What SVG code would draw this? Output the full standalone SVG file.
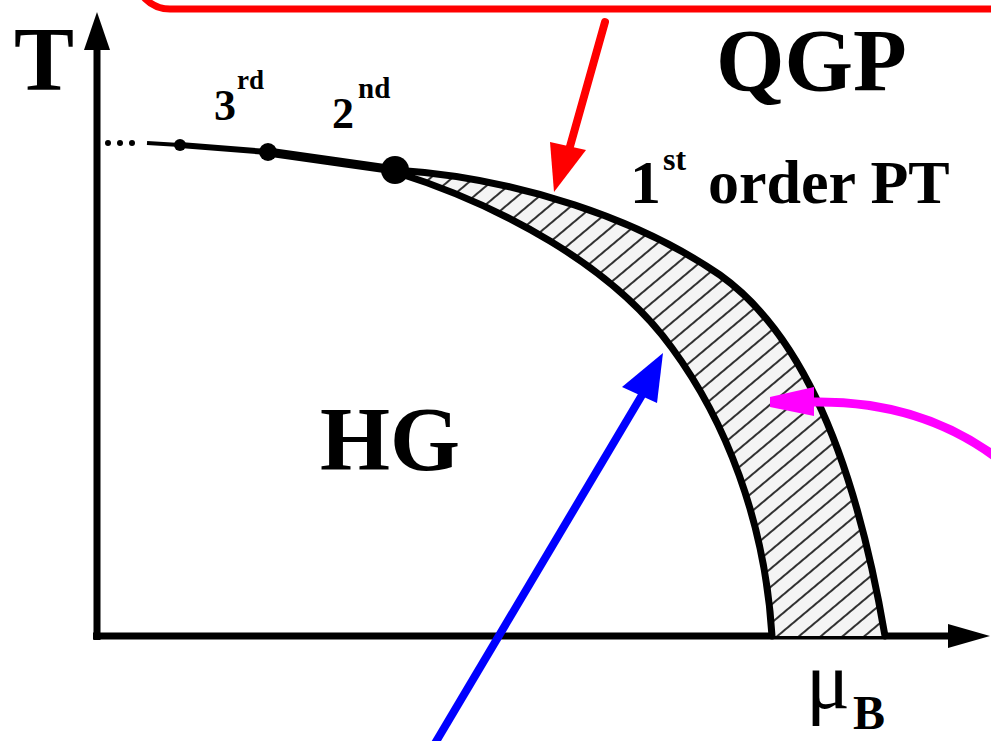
<svg xmlns="http://www.w3.org/2000/svg" width="991" height="741" viewBox="0 0 991 741">
<defs>
<style>
.lbl{font-family:"Liberation Serif","Times New Roman",serif;font-weight:bold;fill:#000}
.axis{stroke:#000;stroke-width:7;fill:none}
.curve{stroke:#000;stroke-width:7;fill:none;stroke-linecap:round}
</style>
<pattern id="hatch" patternUnits="userSpaceOnUse" width="14" height="14" patternTransform="rotate(-40)">
<rect width="14" height="14" fill="#f4f4f4"/>
<line x1="0" y1="7" x2="14" y2="7" stroke="#000" stroke-width="1.6"/>
</pattern>
</defs>
<rect width="991" height="741" fill="#fff"/>

<g id="redbox">
<rect x="135" y="-120" width="900" height="129" rx="35" fill="none" stroke="#ff0000" stroke-width="7"/>
</g>

<g id="axes">
<line class="axis" x1="97" y1="640" x2="97" y2="45"/>
<polygon points="97,12 84,50 110,50" fill="#000"/>
<line class="axis" x1="93" y1="636" x2="955" y2="636"/>
<polygon points="990,636 948,624 948,648" fill="#000"/>
</g>

<g id="region">
<path d="M395,170 C520,178 640,220 720,275 C790,325 850,430 885,636 L772,636 C765,520 725,420 672,348 C612,265 500,205 395,172 Z" fill="url(#hatch)" stroke="none"/>
<path class="curve" d="M395,170 C520,178 640,220 720,275 C790,325 850,430 885,636"/>
<path class="curve" d="M395,172 C500,205 612,265 672,348 C725,420 765,520 772,636"/>
</g>

<g id="crossover">
<circle cx="108" cy="143" r="3" fill="#000"/>
<circle cx="120" cy="143" r="3" fill="#000"/>
<circle cx="132" cy="143" r="3" fill="#000"/>
<line x1="147" y1="143" x2="180" y2="145" stroke="#000" stroke-width="4"/>
<line x1="180" y1="145" x2="268" y2="152" stroke="#000" stroke-width="6"/>
<line x1="268" y1="152" x2="395" y2="170" stroke="#000" stroke-width="9"/>
<circle cx="180" cy="145" r="6" fill="#000"/>
<circle cx="268" cy="152" r="9" fill="#000"/>
<circle cx="395" cy="170" r="14" fill="#000"/>
</g>

<g id="labels">
<text class="lbl" x="14" y="90" font-size="90">T</text>
<text class="lbl" x="716" y="90" font-size="88">QGP</text>
<text class="lbl" x="320" y="470" font-size="90">HG</text>
<text class="lbl" x="214" y="120" font-size="44">3</text>
<text class="lbl" x="237" y="89" font-size="27">rd</text>
<text class="lbl" x="332" y="128" font-size="44">2</text>
<text class="lbl" x="358" y="98" font-size="29">nd</text>
<text class="lbl" x="630" y="203" font-size="62">1</text>
<text class="lbl" x="663" y="170" font-size="32">st</text>
<text class="lbl" x="708" y="203" font-size="62">order PT</text>
<text x="806" y="708" font-size="82" font-family="Liberation Serif, Times New Roman, serif" fill="#000">μ</text>
<text class="lbl" x="853" y="729" font-size="48">B</text>
</g>

<g id="connectors">
<line x1="605" y1="22" x2="569" y2="150" stroke="#ff0000" stroke-width="8" stroke-linecap="round"/>
<polygon points="554,192 550,142 586,150" fill="#ff0000"/>
<line x1="434" y1="745" x2="645" y2="390" stroke="#0000ff" stroke-width="8"/>
<polygon points="663,353 622,387 657,403" fill="#0000ff"/>
<path d="M997,458 Q920,400 812,402" fill="none" stroke="#ff00ff" stroke-width="9"/>
<polygon points="770,397 770,407 814,416 814,387" fill="#ff00ff"/>
</g>
</svg>
